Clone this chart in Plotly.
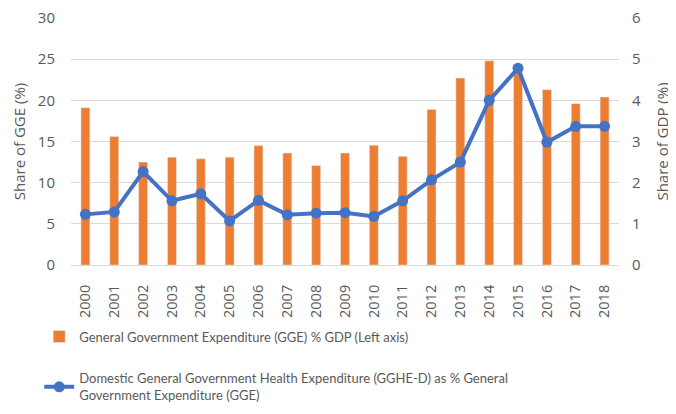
import plotly.graph_objects as go

years = [str(y) for y in range(2000, 2019)]
gge_gdp = [19.1, 15.6, 12.5, 13.1, 12.9, 13.1, 14.5, 13.6, 12.1, 13.6, 14.55, 13.2, 18.9, 22.7, 24.8, 23.8, 21.3, 19.6, 20.4]
gghe_line = [1.23, 1.29, 2.27, 1.56, 1.73, 1.07, 1.57, 1.22, 1.26, 1.27, 1.18, 1.56, 2.07, 2.5, 4.0, 4.78, 2.98, 3.37, 3.37]

left_ticks = [0, 5, 10, 15, 20, 25, 30]
right_ticks = [0, 1, 2, 3, 4, 5, 6]

grey = "#595959"

fig = go.Figure()
fig.add_trace(go.Bar(
    x=years, y=gge_gdp, marker_color="#ED7D31",
    name="General Government Expenditure (GGE) % GDP (Left axis)",
    legendgroup="a", yaxis="y",
))
fig.add_trace(go.Scatter(
    x=years, y=gghe_line, mode="lines+markers",
    line=dict(color="#4472C4", width=4), marker=dict(size=11, color="#4472C4"),
    name="Domestic General Government Health Expenditure (GGHE-D) as % General<br>Government Expenditure (GGE)",
    legendgroup="b", yaxis="y2",
))

fig.update_layout(
    width=668, height=406,
    margin=dict(l=63, r=57, t=10, b=149, autoexpand=False),
    plot_bgcolor="white", paper_bgcolor="white",
    font=dict(family="Lato, Open Sans, sans-serif", color=grey, size=14),
    bargap=0.69,
    showlegend=True,
    legend=dict(
        orientation="v", x=-0.058, xanchor="left", y=-0.229, yanchor="top",
        font=dict(family="Lato, sans-serif", size=13, color=grey), tracegroupgap=22,
        bgcolor="rgba(0,0,0,0)",
    ),
    xaxis=dict(
        type="category", range=[-0.5, len(years) - 0.5], tickangle=-90,
        tickfont=dict(family="Open Sans, sans-serif", size=14.5, color=grey),
        showline=True, linecolor="#D9D9D9", linewidth=1, ticks="", automargin=False,
        ticklabelstandoff=13, ticklabeloverflow="allow",
    ),
    yaxis=dict(
        range=[0, 30], tickvals=left_ticks, gridcolor="#D9D9D9", gridwidth=1,
        zeroline=False, tickfont=dict(family="Open Sans, sans-serif", size=15, color=grey),
        automargin=False, ticklabelstandoff=15, ticklabeloverflow="allow",
        title=dict(text="Share of GGE (%)", font=dict(family="Open Sans, sans-serif", size=15, color=grey), standoff=8),
    ),
    yaxis2=dict(
        range=[0, 6], tickvals=right_ticks, overlaying="y", side="right",
        showgrid=False, zeroline=False, tickfont=dict(family="Open Sans, sans-serif", size=15, color=grey),
        automargin=False, ticklabelstandoff=12, ticklabeloverflow="allow",
        title=dict(text="Share of GDP (%)", font=dict(family="Open Sans, sans-serif", size=15, color=grey), standoff=17),
    ),
)

fig.write_html("out.html")
